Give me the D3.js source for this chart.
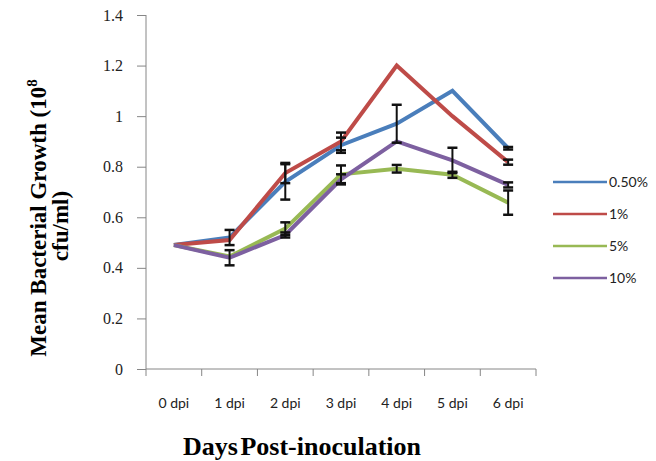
<!DOCTYPE html>
<html>
<head>
<meta charset="utf-8">
<script src="https://cdn.jsdelivr.net/npm/d3@7"></script>
<style>
  html, body { margin: 0; padding: 0; background: #fff; }
  svg { display: block; }
</style>
</head>
<body>
<svg id="chart" width="656" height="461"></svg>
<script>
// Days post-inoculation
const days = ["0 dpi", "1 dpi", "2 dpi", "3 dpi", "4 dpi", "5 dpi", "6 dpi"];
const yTicks = [0, 0.2, 0.4, 0.6, 0.8, 1, 1.2, 1.4];

// Mean bacterial growth (10^8 cfu/ml) per concentration
const seriesNames = ["0.50%", "1%", "5%", "10%"];
const conc050 = [0.49, 0.52, 0.74, 0.885, 0.97, 1.10, 0.873];
const conc1   = [0.49, 0.51, 0.775, 0.90, 1.20, 1.00, 0.818];
const conc5   = [0.49, 0.445, 0.555, 0.77, 0.792, 0.768, 0.658];
const conc10  = [0.49, 0.44, 0.53, 0.75, 0.90, 0.825, 0.728];

// Standard error for each point
const err050 = [0, 0.03, 0.07, 0.03, 0.075, 0, 0.005];
const err1   = [0, 0, 0.04, 0.035, 0, 0, 0.01];
const err5   = [0, 0, 0.025, 0.035, 0.015, 0.012, 0.048];
const err10  = [0, 0.03, 0.01, 0.02, 0, 0.05, 0.01];

const colors = ["#4a7ebb", "#be4b48", "#98b954", "#7d60a0"];

const series = [conc050, conc1, conc5, conc10].map((v, i) => ({
  name: seriesNames[i],
  color: colors[i],
  values: v,
  errors: [err050, err1, err5, err10][i]
}));

const svg = d3.select("#chart");
const plotLeft = 146, plotRight = 536, plotTop = 15, plotBottom = 369;

const x = d3.scaleBand().domain(days).range([plotLeft, plotRight]);
const y = d3.scaleLinear().domain([0, 1.4]).range([plotBottom, plotTop]);

// Axes
const yAxis = svg.append("g")
  .attr("transform", `translate(${plotLeft},0)`)
  .call(d3.axisLeft(y).tickValues(yTicks).tickSize(9).tickPadding(14)
    .tickFormat(d => d3.format("~g")(d)));
yAxis.selectAll("line, path").attr("stroke", "#868686");
yAxis.select(".domain").attr("d", `M0,${plotBottom}V${plotTop}`);
yAxis.selectAll("text")
  .attr("font-family", "'Liberation Serif', serif")
  .attr("font-size", 16).attr("fill", "#222");

const xAxis = svg.append("g")
  .attr("transform", `translate(0,${plotBottom})`)
  .call(d3.axisBottom(x).tickSize(0).tickPadding(29));
xAxis.select(".domain").attr("stroke", "#868686").attr("d", `M${plotLeft},0H${plotRight}`);
xAxis.selectAll("text")
  .attr("font-family", "Lato, 'Open Sans', sans-serif")
  .attr("font-size", 14).attr("fill", "#222");
// Tick marks at category boundaries
const edges = days.map(d => x(d)).concat([x(days[days.length - 1]) + x.bandwidth()]);
xAxis.selectAll(".edge").data(edges).enter().append("line")
  .attr("x1", d => d).attr("x2", d => d).attr("y1", 0).attr("y2", 7)
  .attr("stroke", "#868686");

const cx = d => x(d) + x.bandwidth() / 2;

// Lines
const line = d3.line().x((v, i) => cx(days[i])).y(v => y(v));
svg.append("g").selectAll("path").data(series).enter().append("path")
  .attr("d", s => line(s.values))
  .attr("fill", "none")
  .attr("stroke", s => s.color)
  .attr("stroke-width", 4)
  .attr("stroke-linejoin", "miter");

// Error bars
const eb = svg.append("g");
series.forEach(s => {
  s.values.forEach((v, i) => {
    const e = s.errors[i];
    if (!e) return;
    const xc = cx(days[i]);
    const g = eb.append("g").attr("stroke", "#111").attr("stroke-width", 2);
    g.append("line").attr("x1", xc).attr("x2", xc).attr("y1", y(v + e)).attr("y2", y(v - e));
    g.append("line").attr("x1", xc - 5).attr("x2", xc + 5).attr("y1", y(v + e)).attr("y2", y(v + e)).attr("stroke-width", 2.5);
    g.append("line").attr("x1", xc - 5).attr("x2", xc + 5).attr("y1", y(v - e)).attr("y2", y(v - e)).attr("stroke-width", 2.5);
  });
});

// Legend
const legendY = d3.scalePoint().domain(seriesNames).range([182, 278]);
const lg = svg.append("g").selectAll("g").data(series).enter().append("g")
  .attr("transform", s => `translate(553,${legendY(s.name)})`);
lg.append("line").attr("x1", 0).attr("x2", 54).attr("y1", 0).attr("y2", 0)
  .attr("stroke", s => s.color).attr("stroke-width", 2.5);
lg.append("text").attr("x", 56).attr("y", 5)
  .attr("font-family", "Lato, 'Open Sans', sans-serif").attr("font-size", 14)
  .attr("fill", "#222").text(s => s.name);

// Axis titles
svg.append("text")
  .attr("x", 302).attr("y", 455)
  .attr("text-anchor", "middle")
  .attr("font-family", "'Liberation Serif', 'Times New Roman', serif")
  .attr("font-weight", "bold").attr("font-size", 26)
  .attr("word-spacing", -4)
  .text("Days Post-inoculation");

const yt = svg.append("text")
  .attr("transform", "translate(46,218) rotate(-90)")
  .attr("text-anchor", "middle")
  .attr("font-family", "'Liberation Serif', 'Times New Roman', serif")
  .attr("font-weight", "bold").attr("font-size", 23);
yt.append("tspan").text("Mean Bacterial Growth (10");
yt.append("tspan").attr("font-size", 15).attr("dy", -9).text("8");
svg.append("text")
  .attr("transform", "translate(68,226) rotate(-90)")
  .attr("text-anchor", "middle")
  .attr("font-family", "'Liberation Serif', 'Times New Roman', serif")
  .attr("font-weight", "bold").attr("font-size", 23)
  .text("cfu/ml)");
</script>
</body>
</html>
